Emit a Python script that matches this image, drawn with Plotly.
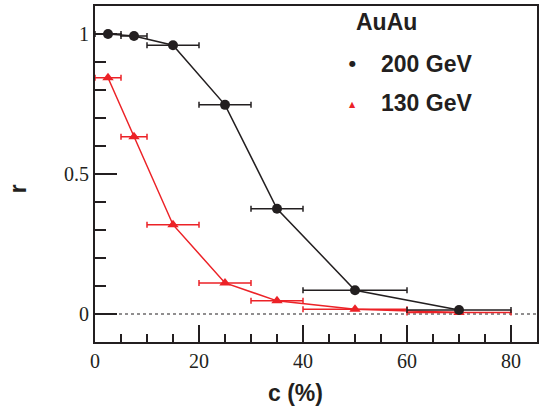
import plotly.graph_objects as go

# Data
cent_x = [2.5, 7.5, 15, 25, 35, 50, 70]
cent_err = [2.5, 2.5, 5, 5, 5, 10, 10]
r_200 = [1.0, 0.993, 0.96, 0.747, 0.376, 0.085, 0.014]
r_130 = [0.844, 0.633, 0.319, 0.111, 0.047, 0.017, 0.005]
x_ticks = [0, 20, 40, 60, 80]
y_ticks = [0, 0.5, 1]
y_ticktext = ["0", "0.5", "1"]

BLACK = "#231f20"
RED = "#ec2227"

fig = go.Figure()

# zero dashed line
fig.add_shape(type="line", x0=0, x1=85, y0=0, y1=0, xref="x", yref="y",
              line=dict(color=BLACK, width=1.2, dash="3px,3px"), layer="below")

fig.add_trace(go.Scatter(
    x=cent_x, y=r_130, mode="lines+markers",
    line=dict(color=RED, width=1.5),
    marker=dict(symbol="triangle-up", size=10, color=RED),
    error_x=dict(type="data", array=cent_err, color=RED, thickness=1.5, width=3),
    showlegend=False))

fig.add_trace(go.Scatter(
    x=cent_x, y=r_200, mode="lines+markers",
    line=dict(color=BLACK, width=1.5),
    marker=dict(symbol="circle", size=10, color=BLACK),
    error_x=dict(type="data", array=cent_err, color=BLACK, thickness=1.5, width=3),
    showlegend=False))

serif = "'Liberation Serif', 'Times New Roman', Times, serif"
sans = "Liberation Sans"

fig.update_xaxes(
    range=[0, 85], tickmode="array", tickvals=x_ticks,
    ticks="inside", ticklen=17, tickwidth=1.5, tickcolor=BLACK,
    minor=dict(dtick=5, ticks="inside", ticklen=8, tickwidth=1.5, tickcolor=BLACK),
    showline=True, linewidth=2, linecolor=BLACK, mirror=True,
    showgrid=False, zeroline=False,
    tickfont=dict(family=serif, size=20, color=BLACK),
)
fig.update_yaxes(
    range=[-0.1, 1.1], tickmode="array", tickvals=y_ticks, ticktext=y_ticktext,
    ticks="inside", ticklen=22, tickwidth=1.5, tickcolor=BLACK,
    minor=dict(dtick=0.1, ticks="inside", ticklen=11, tickwidth=1.5, tickcolor=BLACK),
    showline=True, linewidth=2, linecolor=BLACK, mirror=True,
    showgrid=False, zeroline=False,
    tickfont=dict(family=serif, size=20, color=BLACK),
)

# axis titles
fig.add_annotation(x=(296 - 95) / 442.7, y=-(393 - 341.7) / 337.7, xref="paper", yref="paper",
                   xanchor="center", yanchor="middle", text="<b>c (%)</b>", showarrow=False,
                   font=dict(family=sans, size=23, color=BLACK))
fig.add_annotation(x=-(95 - 18) / 442.7, y=(341.7 - 188) / 337.7, xref="paper", yref="paper",
                   xanchor="center", yanchor="middle", text="<b>r</b>", showarrow=False,
                   textangle=-90, font=dict(family=sans, size=23, color=BLACK))

# legend block
fig.add_annotation(x=0.585, y=0.953, xref="paper", yref="paper", xanchor="left", yanchor="middle",
                   text="<b>AuAu</b>", showarrow=False, font=dict(family=sans, size=23, color=BLACK))
fig.add_annotation(x=0.643, y=0.828, xref="paper", yref="paper", xanchor="left", yanchor="middle",
                   text="<b>200 GeV</b>", showarrow=False, font=dict(family=sans, size=23, color=BLACK))
fig.add_annotation(x=0.643, y=0.71, xref="paper", yref="paper", xanchor="left", yanchor="middle",
                   text="<b>130 GeV</b>", showarrow=False, font=dict(family=sans, size=23, color=BLACK))
fig.add_annotation(x=0.583, y=0.828, xref="paper", yref="paper", xanchor="center", yanchor="middle",
                   text="●", showarrow=False, font=dict(family="DejaVu Sans", size=8, color=BLACK))
fig.add_annotation(x=0.583, y=0.706, xref="paper", yref="paper", xanchor="center", yanchor="middle",
                   text="▲", showarrow=False, font=dict(family="DejaVu Sans", size=8, color=RED))

fig.update_layout(
    width=543, height=406,
    margin=dict(l=95, r=5, t=4, b=64),
    paper_bgcolor="white", plot_bgcolor="white",
)

fig.write_html("out.html")
